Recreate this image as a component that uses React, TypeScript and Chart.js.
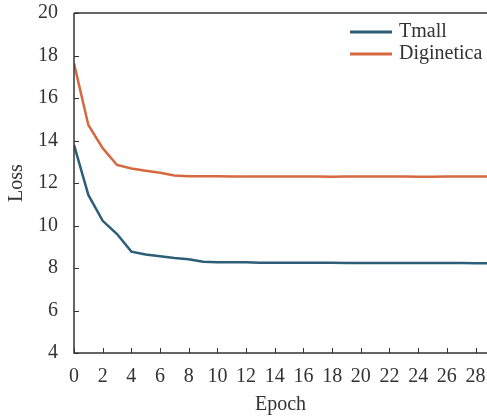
import React, { useEffect, useRef } from "react";
import { Chart, registerables } from "chart.js";

Chart.register(...registerables);

const epochs = [0, 1, 2, 3, 4, 5, 6, 7, 8, 9, 10, 11, 12, 13, 14, 15, 16, 17, 18, 19, 20, 21, 22, 23, 24, 25, 26, 27, 28, 29];
const tmallLoss = [13.79, 11.44, 10.22, 9.6, 8.77, 8.64, 8.55, 8.47, 8.41, 8.29, 8.27, 8.27, 8.27, 8.25, 8.25, 8.25, 8.25, 8.25, 8.25, 8.23, 8.23, 8.23, 8.24, 8.23, 8.23, 8.23, 8.24, 8.24, 8.22, 8.22];
const digineticaLoss = [17.63, 14.73, 13.64, 12.85, 12.68, 12.58, 12.48, 12.35, 12.32, 12.32, 12.32, 12.31, 12.31, 12.31, 12.31, 12.31, 12.31, 12.31, 12.29, 12.31, 12.31, 12.31, 12.31, 12.31, 12.29, 12.29, 12.31, 12.31, 12.31, 12.31];
const seriesNames = ["Tmall", "Diginetica"];
const seriesColors = ["#2c5e7a", "#d6693f"];
const xTitle = "Epoch";
const yTitle = "Loss";

const FONT = "'Liberation Serif', 'Times New Roman', serif";
const INK = "#333333";
const FONT_SIZE = 20;

// Axis lines, inward tick marks, top frame line and the in-plot legend
const framePlugin = {
  id: "frame",
  afterDatasetsDraw(chart: any) {
    const { ctx, chartArea } = chart;
    const xs = chart.scales.x;
    const ys = chart.scales.y;
    ctx.save();
    ctx.strokeStyle = INK;
    ctx.lineWidth = 1.5;
    ctx.beginPath();
    ctx.moveTo(chartArea.left, chartArea.top);
    ctx.lineTo(chartArea.left, chartArea.bottom);
    ctx.lineTo(chartArea.right, chartArea.bottom);
    ctx.moveTo(chartArea.left, chartArea.top);
    ctx.lineTo(chartArea.right, chartArea.top);
    ctx.stroke();
    ctx.lineWidth = 1;
    ctx.beginPath();
    xs.ticks.forEach((t: any) => {
      const px = Math.round(xs.getPixelForValue(t.value)) + 0.5;
      ctx.moveTo(px, chartArea.bottom);
      ctx.lineTo(px, chartArea.bottom - 5);
    });
    ys.ticks.forEach((t: any) => {
      const py = Math.round(ys.getPixelForValue(t.value)) + 0.5;
      ctx.moveTo(chartArea.left, py);
      ctx.lineTo(chartArea.left + 5, py);
    });
    ctx.stroke();

    // legend
    const lx = chartArea.right - 137;
    let ly = chartArea.top + 19;
    ctx.font = `${FONT_SIZE}px ${FONT}`;
    ctx.textBaseline = "middle";
    ctx.textAlign = "left";
    chart.data.datasets.forEach((ds: any) => {
      ctx.strokeStyle = ds.borderColor;
      ctx.lineWidth = 3;
      ctx.beginPath();
      ctx.moveTo(lx, ly);
      ctx.lineTo(lx + 42, ly);
      ctx.stroke();
      ctx.fillStyle = INK;
      ctx.fillText(ds.label, lx + 49, ly);
      ly += 22;
    });
    ctx.restore();
  },
};

export default function App() {
  const canvasRef = useRef<HTMLCanvasElement | null>(null);

  useEffect(() => {
    document.body.style.margin = "0";
    const canvas = canvasRef.current;
    if (!canvas) return;
    const evenTicks = (scale: any) => {
      scale.ticks = scale.ticks.filter((t: any) => Math.abs(t.value % 2) < 1e-9);
    };
    const chart = new Chart(canvas, {
      type: "line",
      data: {
        datasets: [tmallLoss, digineticaLoss].map((vals, i) => ({
          label: seriesNames[i],
          data: vals.map((y, k) => ({ x: epochs[k], y })),
          borderColor: seriesColors[i],
          backgroundColor: seriesColors[i],
          borderWidth: 2.5,
          pointRadius: 0,
          tension: 0,
        })),
      },
      options: {
        animation: false,
        responsive: false,
        maintainAspectRatio: false,
        layout: { padding: { left: 0, right: 0, top: 13, bottom: 0 } },
        plugins: {
          legend: { display: false },
          tooltip: { enabled: false },
        },
        scales: {
          x: {
            type: "linear",
            min: 0,
            max: 28.8,
            grid: { display: false, drawTicks: false },
            border: { display: false },
            afterBuildTicks: evenTicks,
            afterFit: (s: any) => {
              s.height = 66;
              s.paddingLeft = 0;
              s.paddingRight = 0;
            },
            ticks: {
              stepSize: 2,
              includeBounds: false,
              autoSkip: false,
              maxRotation: 0,
              padding: 12,
              color: INK,
              font: { family: FONT, size: FONT_SIZE },
            },
            title: {
              display: true,
              text: xTitle,
              color: INK,
              font: { family: FONT, size: FONT_SIZE },
              padding: { top: 0, bottom: 2 },
            },
          },
          y: {
            min: 4,
            max: 20,
            grid: { display: false, drawTicks: false },
            border: { display: false },
            afterBuildTicks: evenTicks,
            afterFit: (s: any) => {
              s.width = 74;
              s.paddingTop = 0;
              s.paddingBottom = 0;
            },
            ticks: {
              stepSize: 2,
              padding: 16,
              color: INK,
              font: { family: FONT, size: FONT_SIZE },
            },
            title: {
              display: true,
              text: yTitle,
              color: INK,
              font: { family: FONT, size: FONT_SIZE },
              padding: { top: 5, bottom: 0 },
            },
          },
        },
      },
      plugins: [framePlugin],
    });
    return () => chart.destroy();
  }, []);

  return (
    <div style={{ position: "fixed", left: 0, top: 0, width: 487, height: 419, background: "#fff" }}>
      <canvas ref={canvasRef} width={487} height={419} style={{ width: 487, height: 419, display: "block" }} />
    </div>
  );
}
